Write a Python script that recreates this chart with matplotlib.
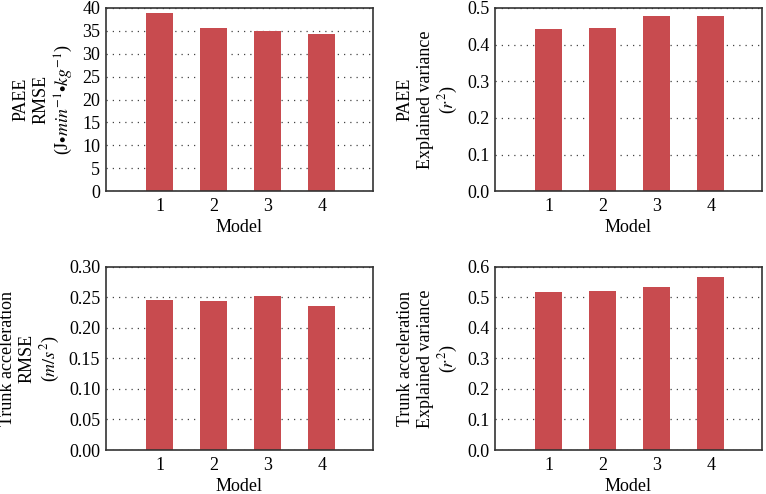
import matplotlib
matplotlib.use("Agg")
import matplotlib.pyplot as plt
import numpy as np

plt.rcParams['font.family'] = ['Liberation Serif', 'DejaVu Serif']
plt.rcParams['mathtext.fontset'] = 'stix'

models = [1, 2, 3, 4]
paee_rmse = [38.9, 35.7, 35.0, 34.4]
paee_r2 = [0.443, 0.445, 0.479, 0.477]
trunk_rmse = [0.246, 0.244, 0.252, 0.235]
trunk_r2 = [0.518, 0.522, 0.535, 0.568]

panels = [
    (paee_rmse, "PAEE\nRMSE\n(J$\\bullet$$min^{-1}$$\\bullet$$kg^{-1}$)", (0, 40), np.arange(0, 41, 5), "%d"),
    (paee_r2, "PAEE\nExplained variance\n($r^2$)", (0, 0.5), np.arange(0, 0.51, 0.1), "%.1f"),
    (trunk_rmse, "Trunk acceleration\nRMSE\n($m/s^2$)", (0, 0.30), np.arange(0, 0.301, 0.05), "%.2f"),
    (trunk_r2, "Trunk acceleration\nExplained variance\n($r^2$)", (0, 0.6), np.arange(0, 0.61, 0.1), "%.1f"),
]

positions = [
    [0.138, 0.613, 0.349, 0.371],
    [0.646, 0.613, 0.349, 0.371],
    [0.138, 0.089, 0.349, 0.371],
    [0.646, 0.089, 0.349, 0.371],
]

fs = 13
fig = plt.figure(figsize=(7.66, 4.94), dpi=100)
for (vals, ylab, ylim, yt, fmt), pos in zip(panels, positions):
    ax = fig.add_axes(pos)
    ax.bar(models, vals, width=0.5, color='#c84b4f', zorder=2)
    ax.set_xlim(0, 4.95)
    ax.set_ylim(*ylim)
    ax.set_yticks(yt)
    ax.set_yticklabels([fmt % v for v in yt])
    ax.set_xticks(models)
    ax.tick_params(axis='x', length=0, labelsize=fs, pad=5)
    ax.tick_params(axis='y', length=0, labelsize=fs, pad=4)
    ax.yaxis.grid(True, linestyle=(0, (1, 4)), color='#444444', linewidth=0.9, zorder=1)
    for s in ax.spines.values():
        s.set_color('#333333')
        s.set_linewidth(1.2)
    ax.set_xlabel("Model", fontsize=fs, labelpad=3)
    ax.set_ylabel(ylab, fontsize=fs, linespacing=1.2, labelpad=5)

fig.savefig("out.png", dpi=100)
